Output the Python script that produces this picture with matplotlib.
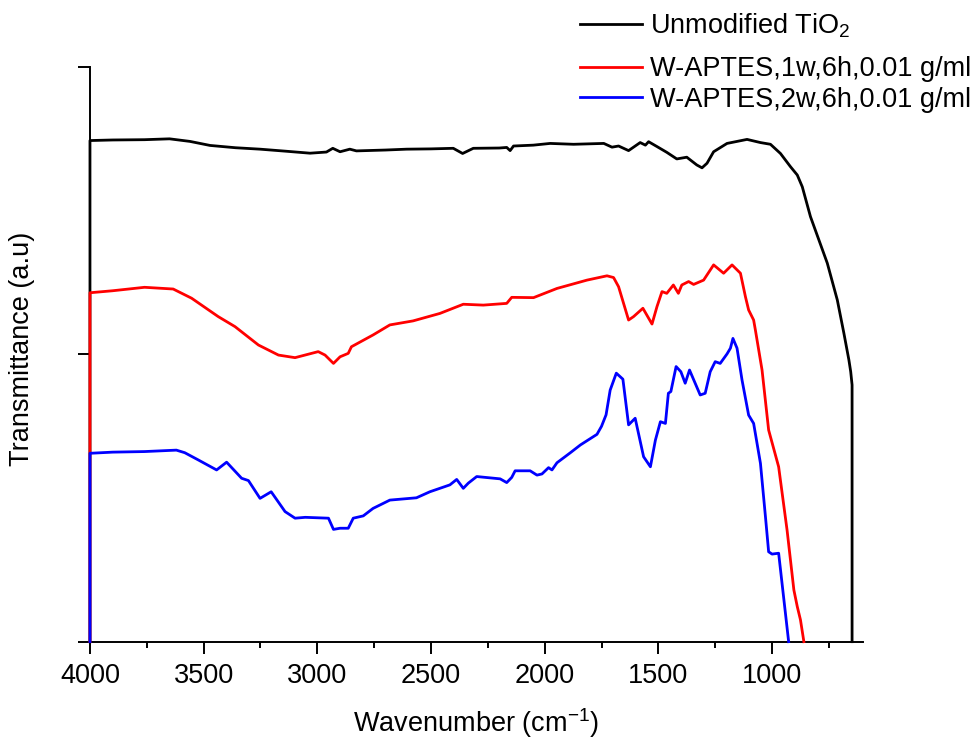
import numpy as np
import matplotlib
matplotlib.use('Agg')
import matplotlib.pyplot as plt

plt.rcParams['font.family'] = ['Liberation Sans', 'DejaVu Sans']
plt.rcParams['mathtext.fontset'] = 'custom'
plt.rcParams['mathtext.rm'] = 'Liberation Sans'
plt.rcParams['mathtext.it'] = 'Liberation Sans'

# FTIR spectra (wavenumber, transmittance a.u.)
wn_tio2 = [4000, 4000, 3900, 3760, 3650, 3560, 3472, 3360, 3252, 3140, 3032, 2960,
           2932, 2900, 2857, 2828, 2700, 2607, 2500, 2402, 2361, 2314, 2200, 2167,
           2152, 2137, 2050, 1976, 1873, 1740, 1704, 1675, 1631, 1580, 1557, 1543,
           1506, 1463, 1419, 1375, 1331, 1308, 1286, 1257, 1198, 1110, 1051, 1007,
           963, 919, 889, 867, 831, 794, 757, 713, 684, 662, 654, 648, 648]
t_tio2 = [0.0, 1.745, 1.747, 1.748, 1.751, 1.742, 1.728, 1.720, 1.715, 1.708, 1.701, 1.705,
          1.718, 1.706, 1.715, 1.709, 1.712, 1.715, 1.716, 1.718, 1.700, 1.718, 1.719, 1.721,
          1.710, 1.726, 1.729, 1.735, 1.732, 1.735, 1.722, 1.726, 1.710, 1.738, 1.729, 1.741,
          1.724, 1.704, 1.681, 1.687, 1.660, 1.650, 1.666, 1.706, 1.735, 1.749, 1.738, 1.732,
          1.700, 1.654, 1.625, 1.584, 1.480, 1.399, 1.318, 1.190, 1.074, 0.981, 0.940, 0.894, 0.0]

wn_1w = [4000, 4000, 3900, 3760, 3634, 3553, 3436, 3362, 3259, 3171, 3098, 2996,
         2966, 2929, 2900, 2864, 2850, 2755, 2681, 2579, 2461, 2358, 2270, 2167,
         2145, 2049, 1946, 1814, 1726, 1697, 1675, 1653, 1631, 1609, 1568, 1528,
         1506, 1484, 1463, 1434, 1412, 1397, 1367, 1345, 1301, 1257, 1213, 1176,
         1139, 1117, 1103, 1081, 1073, 1044, 1015, 971, 934, 904, 889, 875, 860]
t_1w = [0.0, 1.215, 1.222, 1.234, 1.228, 1.196, 1.132, 1.097, 1.033, 0.998, 0.989, 1.010,
        0.998, 0.969, 0.992, 1.004, 1.027, 1.068, 1.103, 1.117, 1.143, 1.175, 1.172, 1.178,
        1.199, 1.198, 1.230, 1.259, 1.274, 1.268, 1.236, 1.178, 1.120, 1.132, 1.161, 1.106,
        1.167, 1.219, 1.213, 1.242, 1.213, 1.242, 1.254, 1.244, 1.259, 1.312, 1.283, 1.312,
        1.283, 1.201, 1.155, 1.120, 1.084, 0.946, 0.737, 0.609, 0.389, 0.180, 0.122, 0.076, 0.0]

wn_2w = [4000, 4000, 3900, 3760, 3620, 3583, 3524, 3443, 3399, 3333, 3303, 3252,
         3203, 3142, 3098, 3053, 2951, 2929, 2900, 2864, 2842, 2798, 2755, 2681,
         2564, 2505, 2417, 2387, 2358, 2336, 2299, 2196, 2167, 2145, 2130, 2064,
         2034, 2012, 1983, 1968, 1946, 1887, 1843, 1770, 1750, 1730, 1712, 1685,
         1656, 1631, 1602, 1565, 1535, 1513, 1491, 1469, 1456, 1445, 1422, 1401,
         1382, 1363, 1316, 1294, 1272, 1250, 1228, 1198, 1183, 1172, 1154, 1132,
         1103, 1081, 1051, 1029, 1015, 1000, 971, 956, 927]
t_2w = [0.0, 0.656, 0.660, 0.662, 0.667, 0.658, 0.633, 0.598, 0.625, 0.569, 0.561, 0.499,
        0.522, 0.453, 0.430, 0.433, 0.430, 0.391, 0.395, 0.395, 0.430, 0.438, 0.464, 0.493,
        0.501, 0.522, 0.546, 0.565, 0.534, 0.552, 0.575, 0.567, 0.554, 0.572, 0.595, 0.595,
        0.580, 0.584, 0.606, 0.598, 0.623, 0.658, 0.685, 0.722, 0.750, 0.790, 0.876, 0.935,
        0.914, 0.755, 0.778, 0.644, 0.609, 0.702, 0.766, 0.760, 0.865, 0.871, 0.958, 0.940,
        0.900, 0.946, 0.859, 0.865, 0.940, 0.975, 0.969, 1.002, 1.022, 1.056, 1.022, 0.911,
        0.789, 0.760, 0.621, 0.435, 0.313, 0.305, 0.308, 0.203, 0.0]

labels = ['Unmodified TiO$_2$', 'W-APTES,1w,6h,0.01 g/ml', 'W-APTES,2w,6h,0.01 g/ml']

fig = plt.figure(figsize=(9.79, 7.39), dpi=100)
ax = fig.add_axes([0.0919, 0.1317, 0.7896, 0.7772])

l1, = ax.plot(wn_tio2, t_tio2, color='black', lw=2.0, zorder=3, clip_on=False)
l2, = ax.plot(wn_1w, t_1w, color='red', lw=2.0, zorder=3, clip_on=False)
l3, = ax.plot(wn_2w, t_2w, color='blue', lw=2.0, zorder=3, clip_on=False)

ax.set_xlim(4000, 600)
ax.set_ylim(0, 2)
ax.set_xticks([4000, 3500, 3000, 2500, 2000, 1500, 1000])
ax.set_xticks(np.arange(3750, 600, -500), minor=True)
ax.set_yticks([0, 1, 2])
ax.set_yticklabels([])

ax.spines['top'].set_visible(False)
ax.spines['right'].set_visible(False)
for s in ['left', 'bottom']:
    ax.spines[s].set_linewidth(1.4)
ax.tick_params(which='major', direction='out', length=8.5, width=1.4, labelsize=19.5, pad=7)
ax.tick_params(which='minor', direction='out', length=4.3, width=1.4)

ax.set_xlabel('Wavenumber (cm$^{-1}$)', fontsize=19.5, labelpad=12)
ax.set_ylabel('Transmittance (a.u)', fontsize=19.5, labelpad=24)
ax.yaxis.label.set_y(0.51)

leg_kw = dict(loc='center left', frameon=False, fontsize=19.5, handlelength=2.3,
              handletextpad=0.3, borderpad=0, borderaxespad=0)
fig.legend([l1], labels[:1], bbox_to_anchor=(0.5925, (739 - 26) / 739), **leg_kw)
fig.legend([l2, l3], labels[1:], bbox_to_anchor=(0.5925, (739 - 84.5) / 739),
           labelspacing=0.15, **leg_kw)

plt.savefig('out.png', dpi=100)
